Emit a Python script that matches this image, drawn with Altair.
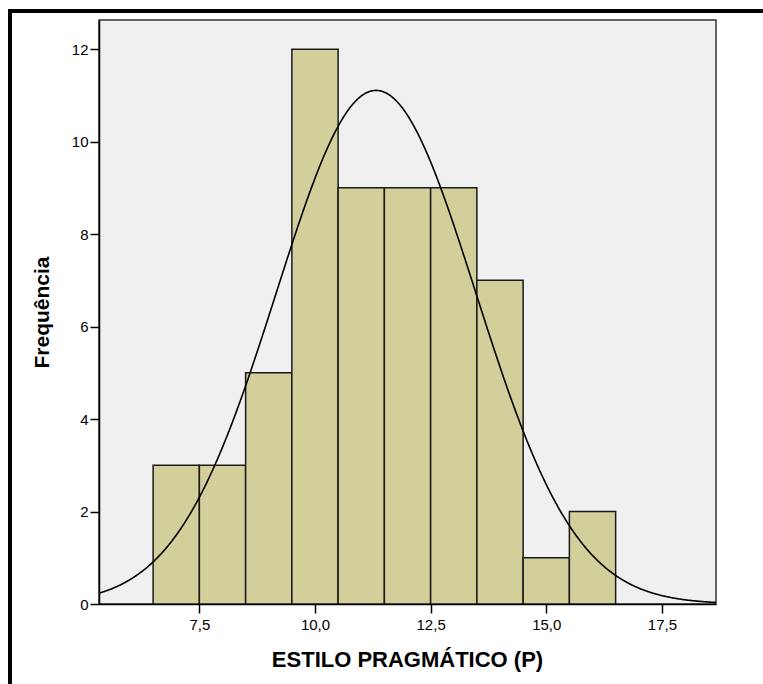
import altair as alt
import pandas as pd

# Histogram data
bin_start = [6.5, 7.5, 8.5, 9.5, 10.5, 11.5, 12.5, 13.5, 14.5, 15.5]
bin_end = [7.5, 8.5, 9.5, 10.5, 11.5, 12.5, 13.5, 14.5, 15.5, 16.5]
counts = [3, 3, 5, 12, 9, 9, 9, 7, 1, 2]

# Normal curve parameters (SPSS-style fitted normal)
mean_val = 11.32
sd_val = 2.155
n_total = 60
bin_width = 1.0

x_ticks = [7.5, 10.0, 12.5, 15.0, 17.5]
y_ticks = [0, 2, 4, 6, 8, 10, 12]
x_domain = [5.33, 18.67]
y_domain = [0, 12.63]

FONT = "Liberation Sans"

df = pd.DataFrame({"start": bin_start, "end": bin_end, "count": counts})

xscale = alt.Scale(domain=x_domain, nice=False, zero=False)
yscale = alt.Scale(domain=y_domain, nice=False)

bars = alt.Chart(df).mark_bar(
    fill="#D3CF9B", stroke="#1a1a1a", strokeWidth=1.5, clip=True
).encode(
    x=alt.X("start:Q", scale=xscale,
            axis=alt.Axis(values=x_ticks,
                          labelExpr="replace(format(datum.value, '.1f'), '.', ',')",
                          title="ESTILO PRAGMÁTICO (P)",
                          titleX=308, titleY=55, titleBaseline="middle",
                          labelPadding=4, grid=False)),
    x2="end:Q",
    y=alt.Y("count:Q", scale=yscale,
            axis=alt.Axis(values=y_ticks, format="d", title="Frequência",
                          titleFontSize=21, labelPadding=2,
                          titlePadding=19, grid=False)),
    y2=alt.datum(0),
)

curve = alt.Chart(alt.sequence(start=x_domain[0], stop=x_domain[1] + 0.02, step=0.02, as_="x")).transform_calculate(
    y=f"{n_total}*{bin_width}/({sd_val}*sqrt(2*PI))*exp(-0.5*pow((datum.x-{mean_val})/{sd_val},2))"
).mark_line(color="black", strokeWidth=1.6, clip=True).encode(
    x=alt.X("x:Q", scale=xscale),
    y=alt.Y("y:Q", scale=yscale),
)

one = alt.Data(values=[{}])
frame_top = alt.Chart(one).mark_rule(color="black", strokeWidth=4).encode(
    x=alt.value(-91), x2=alt.value(700), y=alt.value(-9)
)
frame_left = alt.Chart(one).mark_rule(color="black", strokeWidth=4).encode(
    x=alt.value(-89), y=alt.value(-11), y2=alt.value(700)
)

chart = alt.layer(bars, curve, frame_top, frame_left).properties(
    width=617, height=584,
    autosize=alt.AutoSizeParams(type="none"),
    padding={"left": 99, "top": 20, "right": 47, "bottom": 80},
    background="white",
).configure_view(
    fill="#F0F0F0", stroke="#333333", strokeWidth=1.5
).configure_axis(
    labelFont=FONT, labelFontSize=15, labelColor="black",
    titleFont=FONT, titleFontSize=22, titleFontWeight="bold", titleColor="black",
    domainColor="black", domainWidth=1.5, tickColor="black", tickWidth=1.5,
    tickSize=9,
)

chart.save("out.html", embed_options={"renderer": "svg", "actions": False})
